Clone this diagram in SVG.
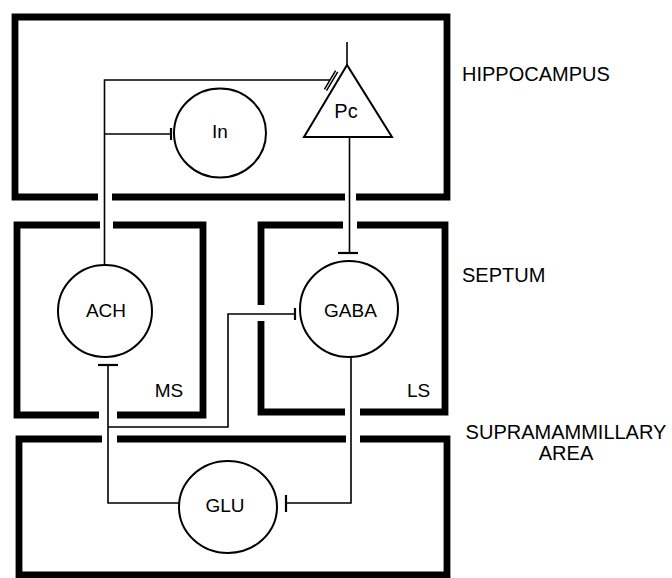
<svg xmlns="http://www.w3.org/2000/svg" width="672" height="578" viewBox="0 0 672 578">
<style>
.box{fill:none;stroke:#000;stroke-width:6.8;stroke-linejoin:miter;stroke-linecap:butt}
.cell{fill:#fff;stroke:#000;stroke-width:2}
.wire{fill:none;stroke:#000;stroke-width:1.6}
.bar{fill:none;stroke:#000;stroke-width:2.2}
.syn{fill:none;stroke:#000;stroke-width:1.5}
text{font-family:"Liberation Sans",Arial,sans-serif;fill:#000}
.lbl{font-size:19px;text-anchor:middle}
.reg{font-size:20px}
</style>
<rect width="672" height="578" fill="#fff"/>
<g id="regions">
<g id="hippocampus-box"><path class="box" d="M98,197 L15,197 L15,17 L447,17 L447,197 L356,197 M112,197 L345,197"/></g>
<g id="ms-box"><path class="box" d="M100,225 L17,225 L17,415 L99,415 M113,225 L203,225 L203,415 L117,415"/></g>
<g id="ls-box"><path class="box" d="M343,225 L261,225 L261,305 M261,321 L261,412 L345,412 M357,225 L445,225 L445,412 L360,412"/></g>
<g id="sum-box"><path class="box" d="M102,439 L19,439 L19,575 L447,575 L447,439 L360,439 M117,439 L346,439"/></g>
</g>
<g id="connectors">
<path class="wire" d="M347,42 L347,65"/>
<path class="wire" d="M104.5,264 L104.5,80 L330,80"/>
<path class="syn" d="M335.6,70.6 L324.4,89.4 M337.7,71.9 L326.5,90.7"/>
<path class="wire" d="M104.5,134 L171,134"/>
<path class="bar" d="M171,128 L171,140"/>
<path class="wire" d="M349.5,137 L349.5,253"/>
<path class="bar" d="M338,253 L358,253"/>
<path class="wire" d="M179,503 L108,503 L108,365"/>
<path class="bar" d="M98,365 L118,365"/>
<path class="wire" d="M108,427 L228,427 L228,314 L295,314"/>
<path class="bar" d="M295,308 L295,320"/>
<path class="wire" d="M351,357 L351,503 L286,503"/>
<path class="bar" d="M286,495 L286,512"/>
</g>
<g id="node-in"><ellipse class="cell" cx="220" cy="133" rx="46" ry="44.5"/><text class="lbl" x="220" y="138">In</text></g>
<g id="node-pc"><polygon class="cell" points="347,65 304,137 392,137"/><text class="lbl" x="346" y="118" style="font-size:20px">Pc</text></g>
<g id="node-ach"><ellipse class="cell" cx="105" cy="311" rx="47" ry="46"/><text class="lbl" x="106" y="317">ACH</text></g>
<g id="node-gaba"><ellipse class="cell" cx="349" cy="309" rx="49" ry="48"/><text class="lbl" x="350.5" y="317">GABA</text></g>
<g id="node-glu"><ellipse class="cell" cx="228" cy="507" rx="49" ry="46"/><text class="lbl" x="225" y="512">GLU</text></g>
<g id="labels">
<text class="lbl" x="169" y="397">MS</text>
<text class="lbl" x="418.5" y="397">LS</text>
<text class="reg" x="462" y="81">HIPPOCAMPUS</text>
<text class="reg" x="462" y="282">SEPTUM</text>
<text class="reg" x="566" y="439" text-anchor="middle">SUPRAMAMMILLARY</text>
<text class="reg" x="566" y="460" text-anchor="middle">AREA</text>
</g>
</svg>
